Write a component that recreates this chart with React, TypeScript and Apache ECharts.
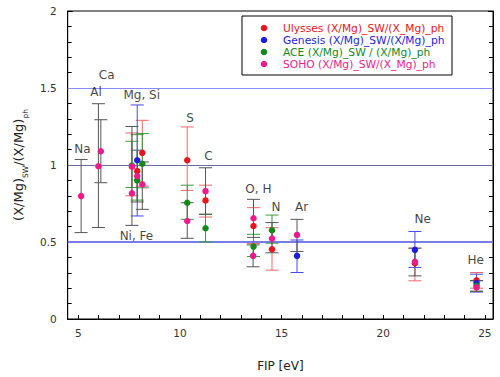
import React, { useEffect, useRef } from "react";
import * as echarts from "echarts";

// ---- data (FIP in eV, ratio values) ----
const seriesNames = [
  "Ulysses (X/Mg)_SW/(X_Mg)_ph",
  "Genesis (X/Mg)_SW/(X/Mg)_ph",
  "ACE (X/Mg)_SW / (X/Mg)_ph",
  "SOHO (X/Mg)_SW/(X_Mg)_ph",
];

const ulyssesFip = [7.64, 7.9, 8.15, 10.36, 11.26, 13.62, 14.53, 21.56, 24.59];
const ulyssesVal = [0.99, 0.96, 1.079, 1.031, 0.77, 0.604, 0.453, 0.362, 0.252];
const ulyssesLow = [0.8, null, 0.863, 0.835, 0.662, 0.49, 0.317, 0.248, 0.2];
const ulyssesHigh = [1.208, null, 1.29, 1.247, 0.869, 0.723, 0.593, 0.46, 0.302];

const genesisFip = [7.9, 15.76, 21.56, 24.59];
const genesisVal = [1.031, 0.41, 0.449, 0.233];
const genesisLow = [0.669, 0.302, 0.335, 0.175];
const genesisHigh = [1.39, 0.513, 0.568, 0.291];

const aceFip = [7.64, 7.9, 8.15, 10.36, 11.26, 13.62, 14.53, 24.59];
const aceVal = [0.997, 0.9, 1.008, 0.755, 0.589, 0.47, 0.576, 0.216];
const aceLow = [0.854, 0.772, 0.852, 0.647, 0.5, 0.406, 0.492, 0.18];
const aceHigh = [1.154, 1.197, 1.204, 0.869, 0.68, 0.55, 0.675, 0.25];

const sohoFip = [5.14, 5.99, 6.11, 7.64, 7.65, 7.9, 8.15, 10.36, 11.26, 13.62, 13.6, 14.53, 15.76, 21.56, 24.59];
const sohoVal = [0.798, 0.992, 1.089, 0.816, 0.99, 0.928, 0.874, 0.636, 0.83, 0.654, 0.41, 0.522, 0.546, 0.371, 0.205];
const sohoLow = [0.561, 0.594, 0.885, 0.608, null, 0.76, 0.712, 0.524, 0.68, 0.53, 0.339, 0.43, 0.438, 0.28, 0.18];
const sohoHigh = [1.036, 1.398, 1.294, 1.25, null, 1.096, 1.02, 0.755, 0.982, 0.777, 0.481, 0.626, 0.647, 0.46, 0.248];

const elementLabels = ["Na", "Al", "Ca", "Mg, Si", "Ni, Fe", "S", "C", "O, H", "N", "Ar", "Ne", "He"];
const elementLabelFip = [5.2, 5.87, 6.4, 8.12, 7.86, 10.5, 11.4, 13.86, 14.73, 15.99, 21.94, 24.55];
const elementLabelY = [1.107, 1.474, 1.586, 1.456, 0.539, 1.305, 1.057, 0.841, 0.729, 0.729, 0.647, 0.384];

const referenceLevels = [1.5, 1, 0.5];

const xTickLabels = [5, 10, 15, 20, 25];
const xMinorTicks = [5, 6, 7, 8, 9, 10, 11, 12, 13, 14, 15, 16, 17, 18, 19, 20, 21, 22, 23, 24, 25];

// ---- styles ----
const pointColors = ["#e8141c", "#1c1ce0", "#12891a", "#ee1a8c"];
const barColors = ["#f06a6a", "#4848ee", "#3c9a3c", "#555555"];
const FONT = "DejaVu Sans";

function errorSeries(name: string, fip: number[], low: (number | null)[], high: (number | null)[], color: string, extra: any = {}) {
  const data: number[][] = [];
  fip.forEach((f, i) => {
    if (low[i] != null && high[i] != null) data.push([f, low[i] as number, high[i] as number]);
  });
  return {
    type: "custom",
    name,
    z: 2,
    silent: true,
    encode: { x: 0, y: [1, 2] },
    data,
    renderItem: (params: any, api: any) => {
      const x = api.value(0);
      const pLo = api.coord([x, api.value(1)]);
      const pHi = api.coord([x, api.value(2)]);
      const hw = 6.5;
      const st = { stroke: color, lineWidth: 1 };
      return {
        type: "group",
        children: [
          { type: "line", shape: { x1: pLo[0], y1: pLo[1], x2: pHi[0], y2: pHi[1] }, style: st },
          { type: "line", shape: { x1: pLo[0] - hw, y1: pLo[1], x2: pLo[0] + hw, y2: pLo[1] }, style: st },
          { type: "line", shape: { x1: pHi[0] - hw, y1: pHi[1], x2: pHi[0] + hw, y2: pHi[1] }, style: st },
        ],
      };
    },
    ...extra,
  };
}

function pointSeries(name: string, fip: number[], val: number[], color: string, z: number) {
  return {
    type: "scatter",
    name,
    z,
    symbol: "circle",
    symbolSize: 6.5,
    itemStyle: { color, opacity: 1 },
    data: fip.map((f, i) => [f, val[i]]),
  };
}

function legendGraphic() {
  const children: any[] = [
    { type: "rect", shape: { x: 0, y: 0, width: 210, height: 59 }, style: { fill: "#fff", stroke: "#000", lineWidth: 1 } },
  ];
  seriesNames.forEach((n, i) => {
    const cy = 12 + i * 12;
    children.push({ type: "circle", shape: { cx: 22, cy, r: 3.3 }, style: { fill: pointColors[i] } });
    children.push({
      type: "text",
      x: 41,
      y: cy,
      style: { text: n, fill: pointColors[i], font: `10.7px '${FONT}'`, textVerticalAlign: "middle", verticalAlign: "middle" },
    });
  });
  return { type: "group", x: 242, y: 16, z: 100, children };
}

export default function App() {
  const ref = useRef<HTMLDivElement>(null);
  useEffect(() => {
    if (!ref.current) return;
    const chart = echarts.init(ref.current, undefined, { renderer: "svg" });
    const option: any = {
      animation: false,
      backgroundColor: "#ffffff",
      grid: { left: 67.7, right: 7, top: 11, bottom: 57, show: true, borderColor: "#000", borderWidth: 1, backgroundColor: "transparent" },
      graphic: [legendGraphic()],
      xAxis: {
        type: "value",
        min: 4.48,
        max: 25.4,
        name: "FIP [eV]",
        nameLocation: "middle",
        nameGap: 41,
        nameTextStyle: { fontSize: 12, fontFamily: FONT, color: "#222" },
        axisLine: { show: true, lineStyle: { color: "#000", width: 1 } },
        axisTick: { show: true, inside: true, length: 4, customValues: xMinorTicks, lineStyle: { color: "#000" } },
        axisLabel: { customValues: xTickLabels, fontSize: 10.5, fontFamily: FONT, color: "#333", margin: 8 },
        splitLine: { show: false },
      },
      yAxis: [
        {
          type: "value",
          min: 0,
          max: 2,
          interval: 0.5,
          name: "(X/Mg){s|SW}/(X/Mg){s|ph}",
          nameLocation: "middle",
          nameRotate: 90,
          nameGap: 38,
          nameTextStyle: {
            fontSize: 13,
            fontFamily: FONT,
            color: "#222",
            lineHeight: 16,
            rich: { s: { fontSize: 7.5, fontFamily: FONT, color: "#222", verticalAlign: "bottom", lineHeight: 21 } },
          },
          axisLine: { show: true, lineStyle: { color: "#000" } },
          axisTick: { show: true, inside: true, length: 5, lineStyle: { color: "#000" } },
          minorTick: { show: true, splitNumber: 5, length: 4, lineStyle: { color: "#000" } },
          axisLabel: { fontSize: 10.5, fontFamily: FONT, color: "#333", margin: 11 },
          splitLine: { show: false },
        },
        {
          type: "value",
          position: "right",
          min: 0,
          max: 2,
          interval: 0.5,
          axisLine: { show: true, lineStyle: { color: "#000" } },
          axisTick: { show: true, inside: true, length: 5, lineStyle: { color: "#000" } },
          minorTick: { show: true, splitNumber: 5, length: 4, lineStyle: { color: "#000" } },
          axisLabel: { show: false },
          splitLine: { show: false },
        },
      ],
      series: [
        errorSeries("ulyErr", ulyssesFip, ulyssesLow, ulyssesHigh, barColors[0], {
          markLine: {
            silent: true,
            symbol: "none",
            label: { show: false },
            z: 1,
            data: referenceLevels.map((v, i) => ({
              yAxis: v,
              lineStyle: {
                type: "solid",
                color: i === 0 ? "#8a8aff" : i === 1 ? "#6e6e9e" : "#7a7ae8",
                width: i === 2 ? 2 : 1,
              },
            })),
          },
        }),
        errorSeries("genErr", genesisFip, genesisLow, genesisHigh, barColors[1]),
        errorSeries("aceErr", aceFip, aceLow, aceHigh, barColors[2]),
        errorSeries("sohoErr", sohoFip, sohoLow, sohoHigh, barColors[3]),
        pointSeries(seriesNames[0], ulyssesFip, ulyssesVal, pointColors[0], 5),
        pointSeries(seriesNames[1], genesisFip, genesisVal, pointColors[1], 6),
        pointSeries(seriesNames[2], aceFip, aceVal, pointColors[2], 7),
        pointSeries(seriesNames[3], sohoFip, sohoVal, pointColors[3], 8),
        {
          type: "scatter",
          name: "labels",
          symbolSize: 0,
          silent: true,
          z: 9,
          data: elementLabels.map((n, i) => ({ value: [elementLabelFip[i], elementLabelY[i]], name: n })),
          label: {
            show: true,
            position: "inside",
            formatter: (p: any) => p.name,
            fontSize: 12,
            fontFamily: FONT,
            color: "#111",
          },
        },
      ],
    };
    chart.setOption(option);
    return () => chart.dispose();
  }, []);
  return (
    <div
      style={{
        position: "fixed",
        left: 0,
        top: 0,
        width: 500,
        height: 377,
        boxSizing: "border-box",
        border: "1px solid #aaa69a",
        background: "#fff",
      }}
    >
      <div ref={ref} style={{ position: "absolute", left: -1, top: -1, width: 500, height: 377 }} />
    </div>
  );
}
